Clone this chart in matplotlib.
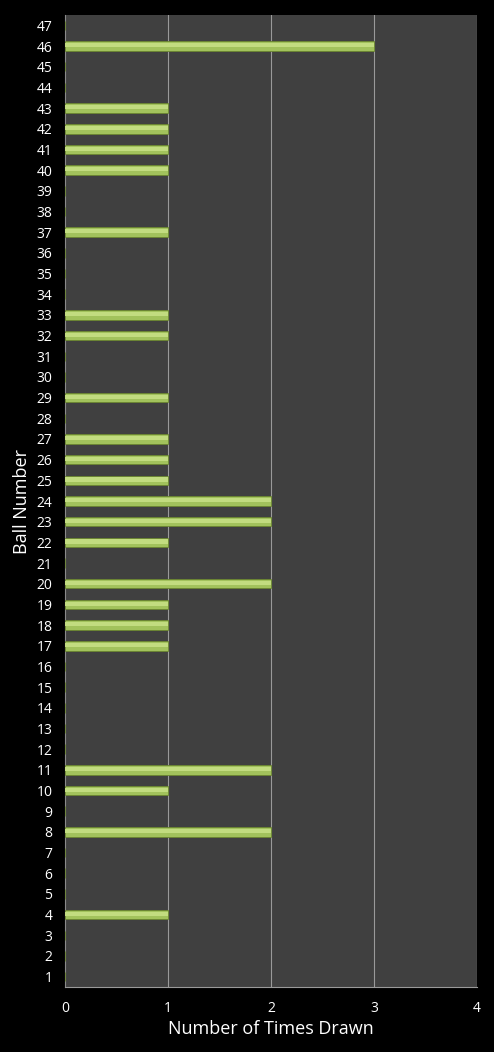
import matplotlib.pyplot as plt
import numpy as np

# Ball numbers and how often each was drawn
balls = list(range(1, 48))
drawn = {4: 1, 8: 2, 10: 1, 11: 2, 17: 1, 18: 1, 19: 1, 20: 2, 22: 1,
         23: 2, 24: 2, 25: 1, 26: 1, 27: 1, 29: 1, 32: 1, 33: 1, 37: 1,
         40: 1, 41: 1, 42: 1, 43: 1, 46: 3}
counts = [drawn.get(b, 0) for b in balls]
xticks = [0, 1, 2, 3, 4]

plt.rcParams['font.family'] = ['Open Sans', 'DejaVu Sans']

fig = plt.figure(figsize=(4.94, 10.52), dpi=100, facecolor='black')
ax = fig.add_axes([0.1316, 0.0618, 0.834, 0.9239])
ax.set_facecolor('#404040')

# Bars: dark outline, main colour, lighter upper stripe for the glossy look
ax.barh(balls, counts, height=0.46, color='#a2c25c', edgecolor='#6a8530',
        linewidth=0.6, zorder=3)
ax.barh([b + 0.04 for b in balls], counts, height=0.2, color='#c2dc80',
        linewidth=0, zorder=4)

ax.set_xlim(0, 4)
ax.set_ylim(0.5, 47.5)
ax.set_xticks(xticks)
ax.set_yticks(balls)
ax.set_yticklabels([str(b) for b in balls])
for x in xticks[1:]:
    ax.axvline(x, color='#9a9a9a', linewidth=0.8, zorder=1)

for side in ['top', 'right']:
    ax.spines[side].set_visible(False)
ax.spines['left'].set_color('#8a8a8a')
ax.spines['bottom'].set_color('#9a9a9a')

ax.tick_params(colors='white', labelsize=10, length=0, pad=9)
ax.tick_params(axis='x', pad=10)
ax.set_xlabel('Number of Times Drawn', color='white', fontsize=13, labelpad=3)
ax.set_ylabel('Ball Number', color='white', fontsize=13, labelpad=4)

fig.savefig('out.png', dpi=100, facecolor='black')
